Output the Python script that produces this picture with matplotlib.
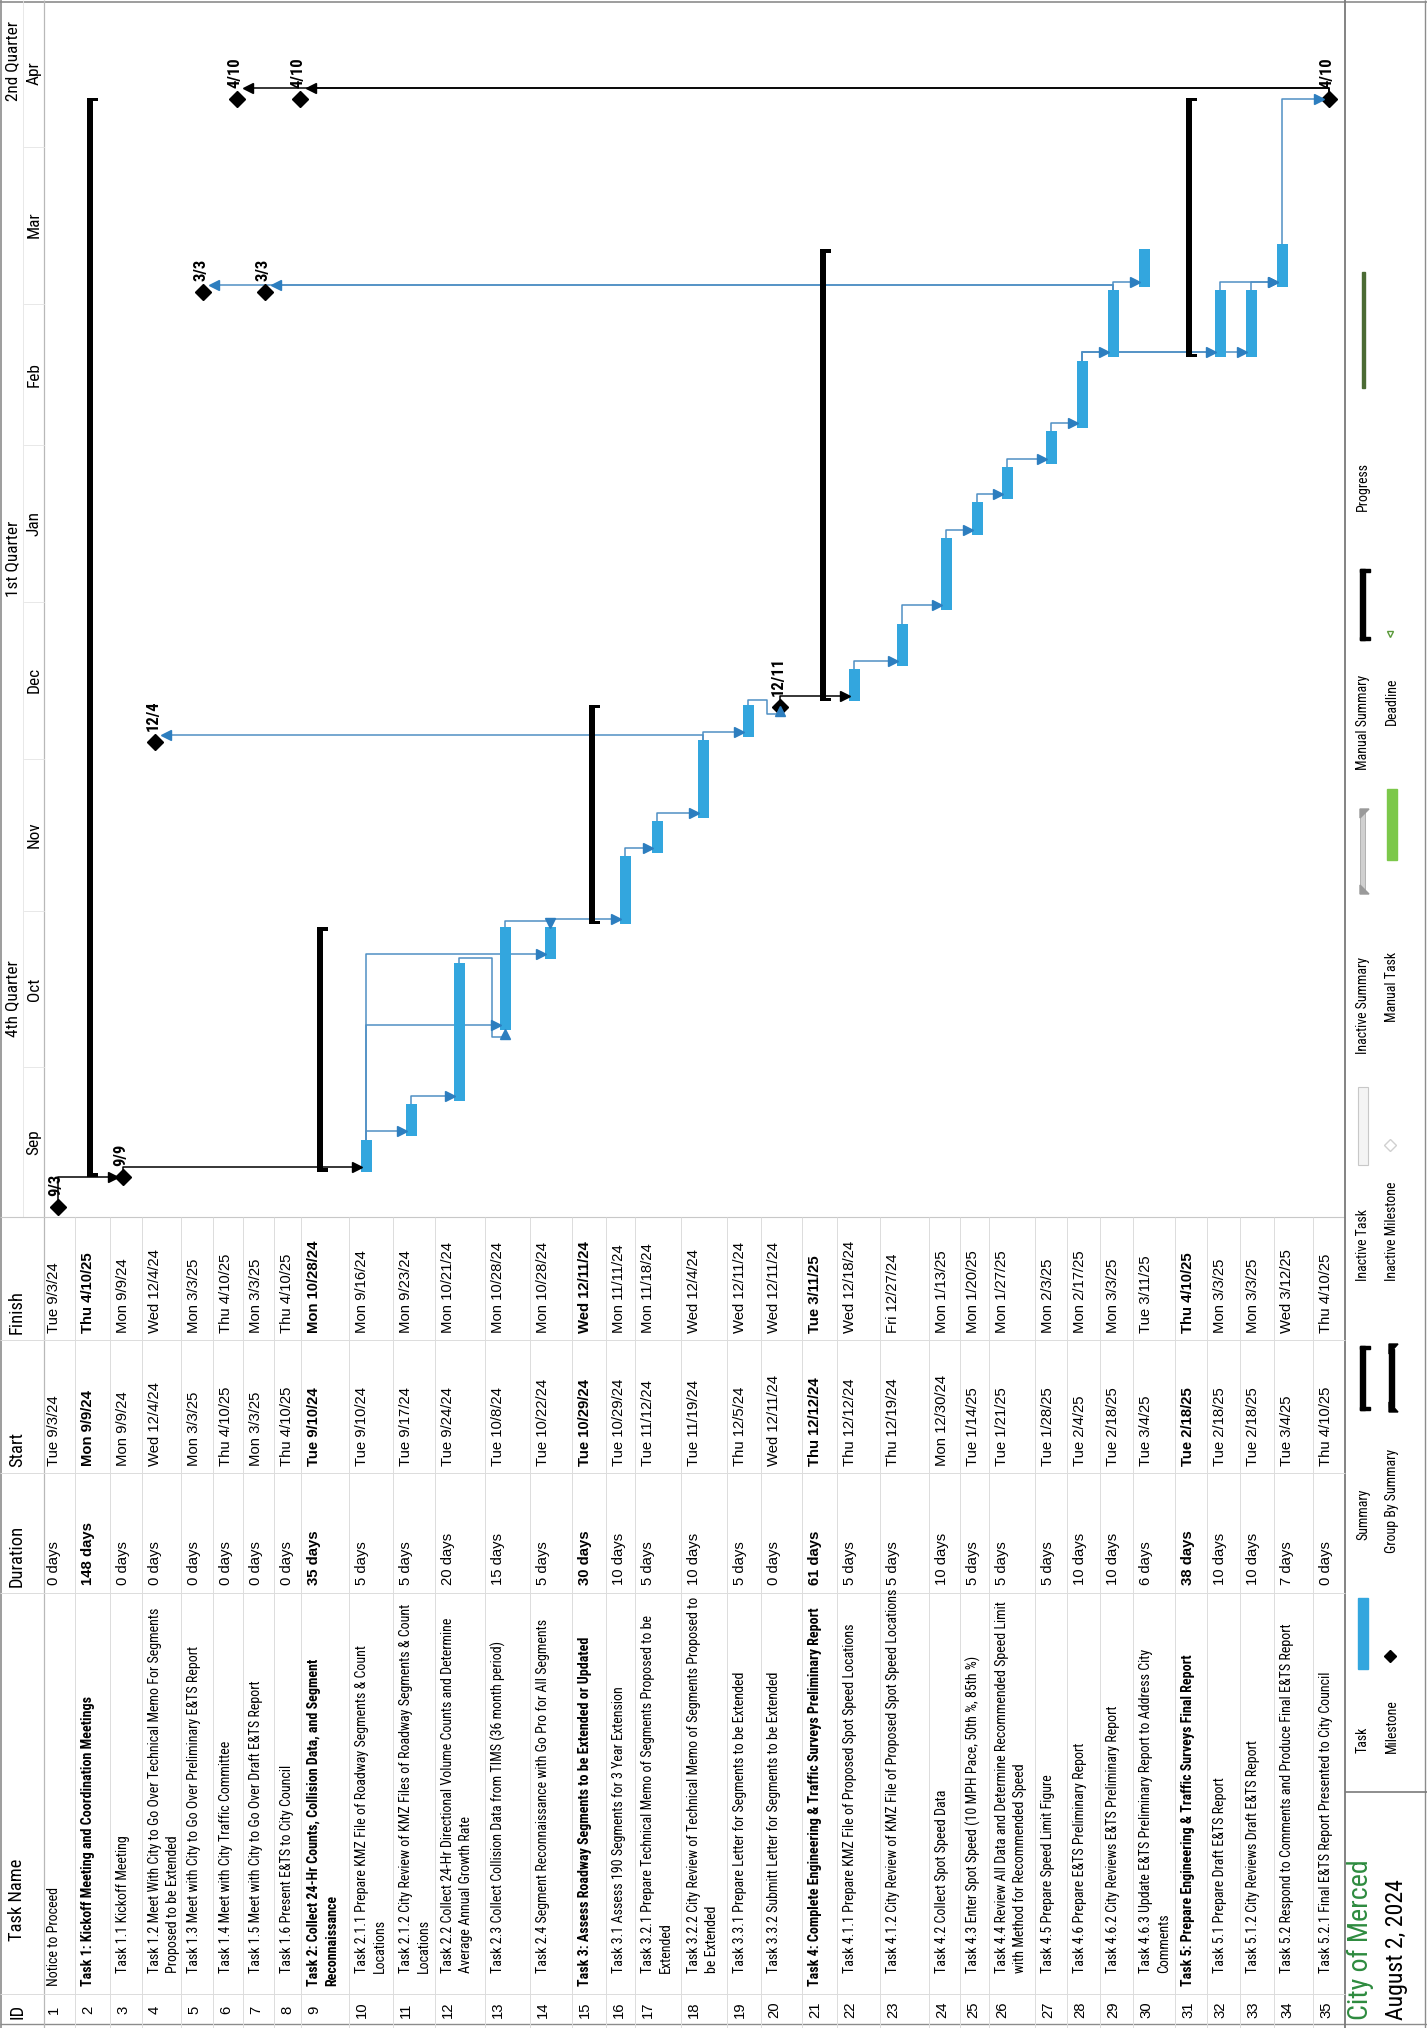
import numpy as np
import pandas as pd
import matplotlib
matplotlib.use("Agg")
import matplotlib.pyplot as plt
import matplotlib.dates as mdates
from matplotlib import font_manager as fm
from matplotlib.patches import Rectangle, Polygon

# ---------------------------------------------------------------- data
task_ids = list(range(1, 36))
task_names = [
    "Notice to Proceed",
    "Task 1: Kickoff Meeting and Coordination Meetings",
    "Task 1.1 Kickoff Meeting",
    "Task 1.2 Meet With City to Go Over Technical Memo For Segments\nProposed to be Extended",
    "Task 1.3 Meet with City to Go Over Preliminary E&TS Report",
    "Task 1.4 Meet with City Traffic Committee",
    "Task 1.5 Meet with City to Go Over Draft E&TS Report",
    "Task 1.6 Present E&TS to City Council",
    "Task 2: Collect 24-Hr Counts, Collision Data, and Segment\nReconnaissance",
    "Task 2.1.1 Prepare KMZ File of Roadway Segments & Count\nLocations",
    "Task 2.1.2 City Review of KMZ Files of Roadway Segments & Count\nLocations",
    "Task 2.2 Collect 24-Hr Directional Volume Counts and Determine\nAverage Annual Growth Rate",
    "Task 2.3 Collect Collision Data from TIMS (36 month period)",
    "Task 2.4 Segment Reconnaissance with Go Pro for All Segments",
    "Task 3: Assess Roadway Segments to be Extended or Updated",
    "Task 3.1 Assess 190 Segments for 3 Year Extension",
    "Task 3.2.1 Prepare Technical Memo of Segments Proposed to be\nExtended",
    "Task 3.2.2 City Review of Technical Memo of Segments Proposed to\nbe Extended",
    "Task 3.3.1 Prepare Letter for Segments to be Extended",
    "Task 3.3.2 Submitt Letter for Segments to be Extended",
    "Task 4: Complete Engineering & Traffic Surveys Preliminary Report",
    "Task 4.1.1 Prepare KMZ File of Proposed Spot Speed Locations",
    "Task 4.1.2 City Review of KMZ File of Proposed Spot Speed Locations",
    "Task 4.2 Collect Spot Speed Data",
    "Task 4.3 Enter Spot Speed (10 MPH Pace, 50th %, 85th %)",
    "Task 4.4 Review All Data and Determine Recommended Speed Limit\nwith Method for Recommended Speed",
    "Task 4.5 Prepare Speed Limit Figure",
    "Task 4.6 Prepare E&TS Preliminary Report",
    "Task 4.6.2 City Reviews E&TS Preliminary Report",
    "Task 4.6.3 Update E&TS Preliminary Report to Address City\nComments",
    "Task 5: Prepare Engineering & Traffic Surveys Final Report",
    "Task 5.1 Prepare Draft E&TS Report",
    "Task 5.1.2 City Reviews Draft E&TS Report",
    "Task 5.2 Respond to Comments and Produce Final E&TS Report",
    "Task 5.2.1 Final E&TS Report Presented to City Council",
]
durations = [
    "0 days", "148 days", "0 days", "0 days", "0 days", "0 days", "0 days", "0 days",
    "35 days", "5 days", "5 days", "20 days", "15 days", "5 days",
    "30 days", "10 days", "5 days", "10 days", "5 days", "0 days",
    "61 days", "5 days", "5 days", "10 days", "5 days", "5 days", "5 days", "10 days",
    "10 days", "6 days", "38 days", "10 days", "10 days", "7 days", "0 days",
]
start_labels = [
    "Tue 9/3/24", "Mon 9/9/24", "Mon 9/9/24", "Wed 12/4/24", "Mon 3/3/25", "Thu 4/10/25",
    "Mon 3/3/25", "Thu 4/10/25", "Tue 9/10/24", "Tue 9/10/24", "Tue 9/17/24", "Tue 9/24/24",
    "Tue 10/8/24", "Tue 10/22/24", "Tue 10/29/24", "Tue 10/29/24", "Tue 11/12/24",
    "Tue 11/19/24", "Thu 12/5/24", "Wed 12/11/24", "Thu 12/12/24", "Thu 12/12/24",
    "Thu 12/19/24", "Mon 12/30/24", "Tue 1/14/25", "Tue 1/21/25", "Tue 1/28/25",
    "Tue 2/4/25", "Tue 2/18/25", "Tue 3/4/25", "Tue 2/18/25", "Tue 2/18/25",
    "Tue 2/18/25", "Tue 3/4/25", "Thu 4/10/25",
]
finish_labels = [
    "Tue 9/3/24", "Thu 4/10/25", "Mon 9/9/24", "Wed 12/4/24", "Mon 3/3/25", "Thu 4/10/25",
    "Mon 3/3/25", "Thu 4/10/25", "Mon 10/28/24", "Mon 9/16/24", "Mon 9/23/24",
    "Mon 10/21/24", "Mon 10/28/24", "Mon 10/28/24", "Wed 12/11/24", "Mon 11/11/24",
    "Mon 11/18/24", "Wed 12/4/24", "Wed 12/11/24", "Wed 12/11/24", "Tue 3/11/25",
    "Wed 12/18/24", "Fri 12/27/24", "Mon 1/13/25", "Mon 1/20/25", "Mon 1/27/25",
    "Mon 2/3/25", "Mon 2/17/25", "Mon 3/3/25", "Tue 3/11/25", "Thu 4/10/25",
    "Mon 3/3/25", "Mon 3/3/25", "Wed 3/12/25", "Thu 4/10/25",
]
summary_ids = [2, 9, 15, 21, 31]
# predecessor, successor, link type
links = [
    (1, 3, "FS"), (3, 10, "FS"), (10, 11, "FS"), (11, 12, "FS"), (10, 13, "FS"),
    (12, 13, "FS"), (10, 14, "FS"), (13, 14, "FF"), (14, 16, "FS"), (16, 17, "FS"),
    (17, 18, "FS"), (18, 19, "FS"), (18, 4, "FS"), (19, 20, "FS"), (20, 22, "FS"),
    (22, 23, "FS"), (23, 24, "FS"), (24, 25, "FS"), (25, 26, "FS"), (26, 27, "FS"),
    (27, 28, "FS"), (28, 29, "FS"), (28, 32, "FS"), (28, 33, "FS"), (29, 30, "FS"),
    (29, 5, "FS"), (29, 7, "FS"), (32, 34, "FS"), (33, 34, "FS"), (34, 35, "FS"),
    (35, 6, "FS"), (35, 8, "FS"),
]
columns = ["ID", "Task Name", "Duration", "Start", "Finish"]
months = ["Sep", "Oct", "Nov", "Dec", "Jan", "Feb", "Mar", "Apr"]
month_starts = ["2024-09-01", "2024-10-01", "2024-11-01", "2024-12-01",
                "2025-01-01", "2025-02-01", "2025-03-01", "2025-04-01", "2025-05-01"]
quarters = ["4th Quarter", "1st Quarter", "2nd Quarter"]
quarter_label_at = ["2024-10-07", "2025-01-02", "2025-04-10"]
view_range = ("2024-09-01 10:00", "2025-04-30 00:00")

legend_left = ["Task", "Summary", "Inactive Task", "Inactive Summary", "Manual Summary", "Progress"]
legend_right = ["Milestone", "Group By Summary", "Inactive Milestone", "Manual Task", "Deadline"]
footer_title = "City of Merced"
footer_date = "August 2, 2024"

# ---------------------------------------------------------------- layout
W, H, DPI = 1427, 2028, 100
HDR_X = 44          # bottom edge of header strip (page px)
BODY_END = 1345     # footer line
CHART_H = 1217      # height of the time area (page px)
# first text line and bar centre of every row (page px, across the rows)
text_line = [54, 88, 123, 155, 194, 226, 256, 287, 314, 362, 406, 448, 498, 543,
             585, 619, 648, 694, 740, 774, 815, 850, 893, 942, 973, 1002, 1048,
             1080, 1113, 1146, 1188, 1220, 1253, 1287, 1326]
bar_pos = [58, 91, 123, 155, 203, 237, 265, 300, 321, 366, 411, 459, 505, 550,
           593, 625, 657, 703, 748, 780, 824, 854, 902, 946, 977, 1007, 1051,
           1082, 1113, 1144, 1190, 1220, 1251, 1282, 1329]
ID_Y, NAME_Y, DUR_Y, START_Y, FIN_Y = 2010, 1986, 1585, 1466, 1333
HDR_Y = [2019, 1941, 1587, 1467, 1334]
INDENT = 13
LINE_GAP = 18
COL_LINES = [1994, 1593, 1473, 1340]

BLUE = "#33a6de"
LINK = "#4f8fc4"
ARROW = "#2d7ebf"
GRID = "#dcdcdc"

# narrow sans face for the task names, similar to the printed schedule
_faces = fm.fontManager.ttflist
_names = {f.name for f in _faces}
_narrow = ["Roboto Condensed", "Liberation Sans Narrow", "Open Sans Condensed",
           "Noto Sans Condensed", "DejaVu Sans Condensed"]
FAM, STRETCH = None, "normal"
for n in _narrow:
    if n in _names:
        FAM = n
        break
if FAM is None:
    for f in _faces:
        if str(f.stretch) in ("condensed", "semi-condensed") and "Mono" not in f.name \
                and "Serif" not in f.name:
            FAM, STRETCH = f.name, str(f.stretch)
            break
if FAM is None:
    FAM = "Roboto" if "Roboto" in _names else "Liberation Sans"
plt.rcParams["font.family"] = [FAM, "DejaVu Sans"]
plt.rcParams["font.stretch"] = STRETCH
# numbers and dates use a face with wider figures
VAL_FAM = ["Liberation Sans", "DejaVu Sans"]


def parse(lbl):
    return pd.to_datetime(lbl.split()[1], format="%m/%d/%y")


is_ms = [d == "0 days" for d in durations]
is_sum = [i in summary_ids for i in task_ids]
t_start = [mdates.date2num(parse(s) + pd.Timedelta(hours=8)) for s in start_labels]
t_end = []
for k in range(len(task_ids)):
    if is_ms[k]:
        t_end.append(t_start[k])
    else:
        t_end.append(mdates.date2num(parse(finish_labels[k]) + pd.Timedelta(hours=17)))

fig = plt.figure(figsize=(W / DPI, H / DPI), dpi=DPI)
fig.patch.set_facecolor("white")
renderer = fig.canvas.get_renderer()


def fit_size(s, target_px, weight="normal", family=None):
    """Font size at which string s is target_px wide."""
    kw = {"family": family} if family else {}
    t = fig.text(0, 0, s, fontsize=10, fontweight=weight, **kw)
    w = t.get_window_extent(renderer).width
    t.remove()
    return 10.0 * target_px / w


FS_TXT = fit_size(task_names[22], 384)
FS_VAL = fit_size("Mon 10/28/24", 91, family=VAL_FAM)
FS_HDR = fit_size("Duration", 62)
FS_SCALE = fit_size("4th Quarter", 76)
FS_MS = fit_size("12/4", 31, "bold")
FS_LEG = fit_size("Group By Summary", 104)
FS_TITLE = fit_size(footer_title, 160)
FS_DATE = fit_size(footer_date, 140)

# page axes in pixel units (y grows downward)
pg = fig.add_axes([0, 0, 1, 1])
pg.set_xlim(0, W)
pg.set_ylim(H, 0)
pg.axis("off")

# gantt axes: x = row position (page px), y = calendar date
gx = fig.add_axes([HDR_X / W, 1 - CHART_H / H, (BODY_END - HDR_X) / W, CHART_H / H])
gx.set_xlim(HDR_X, BODY_END)
v0, v1 = (mdates.date2num(pd.Timestamp(v)) for v in view_range)
gx.set_ylim(v0, v1)
gx.axis("off")
px_day = (v1 - v0) / CHART_H      # days per pixel


# ---------------------------------------------------------------- frame & grid
def pline(xs, ys, **kw):
    pg.plot(xs, ys, solid_capstyle="butt", **kw)


pline([1, 1], [0, H], color="#8c8c8c", lw=1.2)
pline([0, W], [1.5, 1.5], color="#8c8c8c", lw=1.2)
pline([W - 2, W - 2], [0, H], color="#8c8c8c", lw=1.0)
pline([0, W], [H - 4, H - 4], color="#8c8c8c", lw=1.0)
pline([HDR_X, HDR_X], [0, H], color="#b8b8b8", lw=0.9)
pline([23, 23], [0, CHART_H], color="#e4e4e4", lw=0.6)
pline([0, BODY_END], [CHART_H, CHART_H], color="#c8c8c8", lw=0.8)
pline([BODY_END, BODY_END], [0, H], color="#7a7a7a", lw=1.3)
pline([BODY_END, W], [1792, 1792], color="#7a7a7a", lw=1.2)

for k in range(1, len(task_ids)):
    b = text_line[k] - 13
    pline([b, b], [CHART_H, H], color=GRID, lw=0.7)
for cy in COL_LINES:
    pline([0, BODY_END], [cy, cy], color=GRID, lw=0.7)


# ---------------------------------------------------------------- table
def vtext(x, y, s, ax=pg, **kw):
    kw.setdefault("fontsize", FS_TXT)
    kw.setdefault("color", "black")
    ha = kw.pop("ha", "left")
    va = kw.pop("va", "center")
    return ax.text(x, y, s, rotation=90, rotation_mode="anchor", ha=ha, va=va, **kw)


hdr_x = 17
for name, hy in zip(columns, HDR_Y):
    vtext(hdr_x, hy, name, fontsize=FS_HDR)

for k in range(len(task_ids)):
    first = text_line[k]
    lines = task_names[k].split("\n")
    wt = "bold" if is_sum[k] else "normal"
    level = 0 if (is_sum[k] or k == 0) else 1
    vtext(first, ID_Y, str(task_ids[k]), ha="center", fontsize=FS_VAL, family=VAL_FAM)
    for n, ln in enumerate(lines):
        vtext(first + n * LINE_GAP, NAME_Y - INDENT * level, ln, fontweight=wt)
    for val, vy in ((durations[k], DUR_Y), (start_labels[k], START_Y),
                    (finish_labels[k], FIN_Y)):
        vtext(first, vy, val, fontweight=wt, fontsize=FS_VAL, family=VAL_FAM)

# ---------------------------------------------------------------- timescale
ms_num = [mdates.date2num(pd.Timestamp(m)) for m in month_starts]
for k, name in enumerate(months):
    lo, hi = max(ms_num[k], v0), min(ms_num[k + 1], v1)
    vtext(34, (lo + hi) / 2, name, ax=gx, ha="center", fontsize=FS_SCALE, clip_on=False)
    if ms_num[k] > v0:
        gx.plot([24, HDR_X], [ms_num[k]] * 2, color="#e4e4e4", lw=0.6, clip_on=False)
for name, qd in zip(quarters, quarter_label_at):
    vtext(13, mdates.date2num(pd.Timestamp(qd)), name, ax=gx, fontsize=FS_SCALE,
          clip_on=False)

# ---------------------------------------------------------------- bars
BAR_W = 11
DIA_HALF = 6.5
for k in range(len(task_ids)):
    c = bar_pos[k]
    if is_ms[k]:
        gx.plot([c], [t_start[k]], marker="D", ms=8.5, color="black", zorder=6)
        d = parse(start_labels[k])
        gx.text(c - 2, t_start[k] + 11 * px_day, f"{d.month}/{d.day}", rotation=90,
                rotation_mode="anchor", ha="left", va="center", fontsize=FS_MS,
                fontweight="bold", zorder=6)
    elif is_sum[k]:
        gx.bar(c - 1, t_end[k] - t_start[k], bottom=t_start[k], width=6,
               color="black", zorder=5)
        cap = 3.5 * px_day
        gx.bar(c + 1.5, cap, bottom=t_start[k], width=11, color="black", zorder=5)
        gx.bar(c + 1.5, cap, bottom=t_end[k] - cap, width=11, color="black", zorder=5)
    else:
        gx.bar(c, t_end[k] - t_start[k], bottom=t_start[k], width=BAR_W,
               color=BLUE, zorder=4)

# ---------------------------------------------------------------- links
AH = 8  # arrowhead length, px


def arrow(x, y, direction, col):
    gx.plot([x], [y], marker=direction, ms=6.5, color=col, mec=col, zorder=7,
            clip_on=False)


for p, s, kind in links:
    i, j = p - 1, s - 1
    xp, xs = bar_pos[i], bar_pos[j]
    col = "black" if (is_ms[i] or is_sum[i]) else LINK
    acol = "black" if (is_ms[i] or is_sum[i]) else ARROW
    y0 = t_end[i] + (DIA_HALF * px_day if is_ms[i] else 0)
    if kind == "FF":
        yt = t_end[i] + 6 * px_day
        tip = t_end[j]
        gx.plot([xp, xp, xs, xs], [y0, yt, yt, tip + AH * px_day], color=col, lw=1.1, zorder=3)
        arrow(xs, tip + AH / 2 * px_day, "v", acol)
    elif j < i:
        yt = y0 + 5 * px_day
        tip = xs + (DIA_HALF if is_ms[j] else BAR_W / 2)
        gx.plot([xp, xp, tip + AH], [y0, yt, yt], color=col, lw=1.1, zorder=3)
        arrow(tip + AH / 2, yt, "<", acol)
    elif t_start[j] >= t_end[i]:
        yt = t_start[j] if is_ms[j] else t_start[j] + 5 * px_day
        tip = xs - (DIA_HALF if is_ms[j] else BAR_W / 2)
        gx.plot([xp, xp, tip - AH], [y0, yt, yt], color=col, lw=1.1, zorder=3)
        arrow(tip - AH / 2, yt, ">", acol)
    else:
        yt = y0 + 5 * px_day
        xb = xs - BAR_W / 2 - 8
        yb = t_start[j] - 7 * px_day
        gx.plot([xp, xp, xb, xb, xs, xs], [y0, yt, yt, yb, yb, t_start[j] - AH * px_day],
                color=col, lw=1.1, zorder=3)
        arrow(xs, t_start[j] - AH / 2 * px_day, "^", acol)

# ---------------------------------------------------------------- legend
LA, LB = 1363, 1392
vtext(LA, 1753, legend_left[0], fontsize=FS_LEG)
pg.add_patch(Rectangle((LA - 5, 1598), 10, 71, color=BLUE))
vtext(LA, 1540, legend_left[1], fontsize=FS_LEG)
pg.add_patch(Rectangle((LA - 3, 1346), 5, 64, color="black"))
pg.add_patch(Rectangle((LA - 3, 1346), 10, 3, color="black"))
pg.add_patch(Rectangle((LA - 3, 1407), 10, 3, color="black"))
vtext(LA, 1281, legend_left[2], fontsize=FS_LEG)
pg.add_patch(Rectangle((LA - 5, 1087), 10, 78, fc="#f4f4f4", ec="#c8c8c8", lw=0.8))
vtext(LA, 1054, legend_left[3], fontsize=FS_LEG)
pg.add_patch(Rectangle((LA - 3, 812), 5, 80, fc="#d0d0d0", ec="#a8a8a8", lw=0.6))
pg.add_patch(Polygon([(LA - 3, 809), (LA + 6, 809), (LA - 3, 818)], color="#9a9a9a"))
pg.add_patch(Polygon([(LA - 3, 894), (LA + 6, 894), (LA - 3, 885)], color="#9a9a9a"))
vtext(LA, 770, legend_left[4], fontsize=FS_LEG)
pg.add_patch(Rectangle((LA - 3, 569), 5, 71, color="black"))
pg.add_patch(Rectangle((LA - 3, 569), 10, 3, color="black"))
pg.add_patch(Rectangle((LA - 3, 637), 10, 3, color="black"))
vtext(LA, 511, legend_left[5], fontsize=FS_LEG)
pg.add_patch(Rectangle((LA - 1.5, 272), 3, 116, color="#4b6b34"))

vtext(LB, 1753, legend_right[0], fontsize=FS_LEG)
pg.plot([LB - 2], [1656], marker="D", ms=6, color="black")
vtext(LB, 1553, legend_right[1], fontsize=FS_LEG)
pg.add_patch(Rectangle((LB - 3, 1349), 5, 58, color="black"))
pg.add_patch(Polygon([(LB - 3, 1344), (LB + 6, 1344), (LB - 3, 1354)], color="black"))
pg.add_patch(Polygon([(LB - 3, 1412), (LB + 6, 1412), (LB - 3, 1402)], color="black"))
vtext(LB, 1281, legend_right[2], fontsize=FS_LEG)
pg.plot([LB - 2], [1145], marker="D", ms=6, mfc="white", mec="#d0d0d0")
vtext(LB, 1022, legend_right[3], fontsize=FS_LEG)
pg.add_patch(Rectangle((LB - 5, 789), 10, 71, color="#7cc84a"))
vtext(LB, 725, legend_right[4], fontsize=FS_LEG)
pg.plot([LB - 2], [634], marker="v", ms=4, mfc="white", mec="#5a9a3a")

# ---------------------------------------------------------------- footer
vtext(1360, 2020, footer_title, fontsize=FS_TITLE, color="#2e8b3f")
vtext(1396, 2020, footer_date, fontsize=FS_DATE)

fig.savefig("out.png", dpi=DPI, facecolor="white")
